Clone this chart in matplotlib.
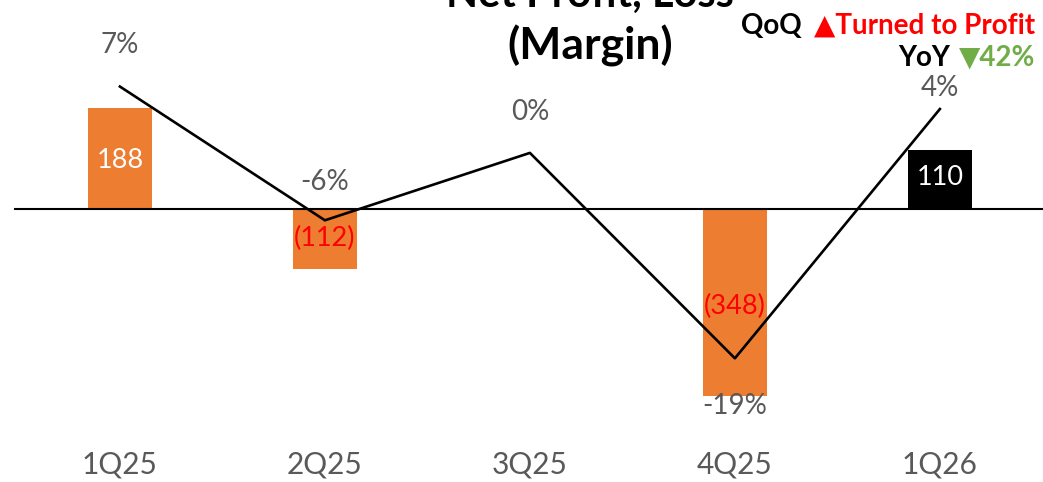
import matplotlib.pyplot as plt
import matplotlib.transforms as mtransforms

plt.rcParams['font.family'] = ['Lato', 'DejaVu Sans']

quarters = ['1Q25', '2Q25', '3Q25', '4Q25', '1Q26']
net_profit = [188, -112, 2, -348, 110]
profit_labels = ['188', '(112)', '', '(348)', '110']
margin = [6.4, -6.1, 0.2, -19.0, 4.3]
margin_labels = ['7%', '-6%', '0%', '-19%', '4%']

orange = '#ED7D31'
gray = '#595959'

fig = plt.figure(figsize=(10.43, 4.82), dpi=100)
ax = fig.add_axes([0, 0, 1, 1])
ax.set_xlim(-0.585, 4.503)
ax.set_ylim(-508, 389)
ax.axis('off')

x = list(range(len(quarters)))
colors = [orange] * 4 + ['black']
ax.bar(x, net_profit, width=0.31, color=colors, zorder=2)
ax.axhline(0, xmin=15 / 1043, xmax=1, color='black', lw=1.5, zorder=3)

# bar value labels
label_y = [90, -55, 0, -182, 58]
label_col = ['white', 'red', 'red', 'red', 'white']
for xi, txt, yy, c in zip(x, profit_labels, label_y, label_col):
    if txt:
        ax.text(xi, yy, txt, ha='center', va='center', fontsize=19.5, color=c, zorder=5)

# margin line on a second axis
ax2 = ax.twinx()
ax2.set_position([0, 0, 1, 1])
ax2.set_ylim(-30.56, 14.49)
ax2.axis('off')
ax2.plot(x, margin, color='black', lw=1.9, zorder=4)
offsets = [3.85, 3.6, 3.8, -4.45, 1.95]
for xi, m, txt, off in zip(x, margin, margin_labels, offsets):
    ax2.text(xi, m + off, txt, ha='center', va='center', fontsize=20, color=gray)

# category labels
trans = mtransforms.blended_transform_factory(ax.transData, ax.transAxes)
for xi, q in zip(x, quarters):
    ax.text(xi, 1 - 465 / 482, q, transform=trans, ha='center', va='center',
            fontsize=21.5, color=gray)

# title (first line runs off the top edge) and growth notes
fig.text(590 / 1043, 1 + 5 / 482, 'Net Profit, Loss', ha='center', va='center',
         fontsize=30, fontweight='bold')
fig.text(590 / 1043, 1 - 46 / 482, '(Margin)', ha='center', va='center',
         fontsize=32, fontweight='bold')

fig.text(1035 / 1043, 1 - 26 / 482, '▲Turned to Profit', ha='right', va='center',
         fontsize=20, color='red', fontweight='bold')
fig.text(802 / 1043, 1 - 26 / 482, 'QoQ', ha='right', va='center',
         fontsize=20, color='black', fontweight='bold')
fig.text(1035 / 1043, 1 - 58 / 482, '▼42%', ha='right', va='center',
         fontsize=20, color='#70AD47', fontweight='bold')
fig.text(950 / 1043, 1 - 58 / 482, 'YoY', ha='right', va='center',
         fontsize=20, color='black', fontweight='bold')

fig.savefig('out.png', dpi=100)
